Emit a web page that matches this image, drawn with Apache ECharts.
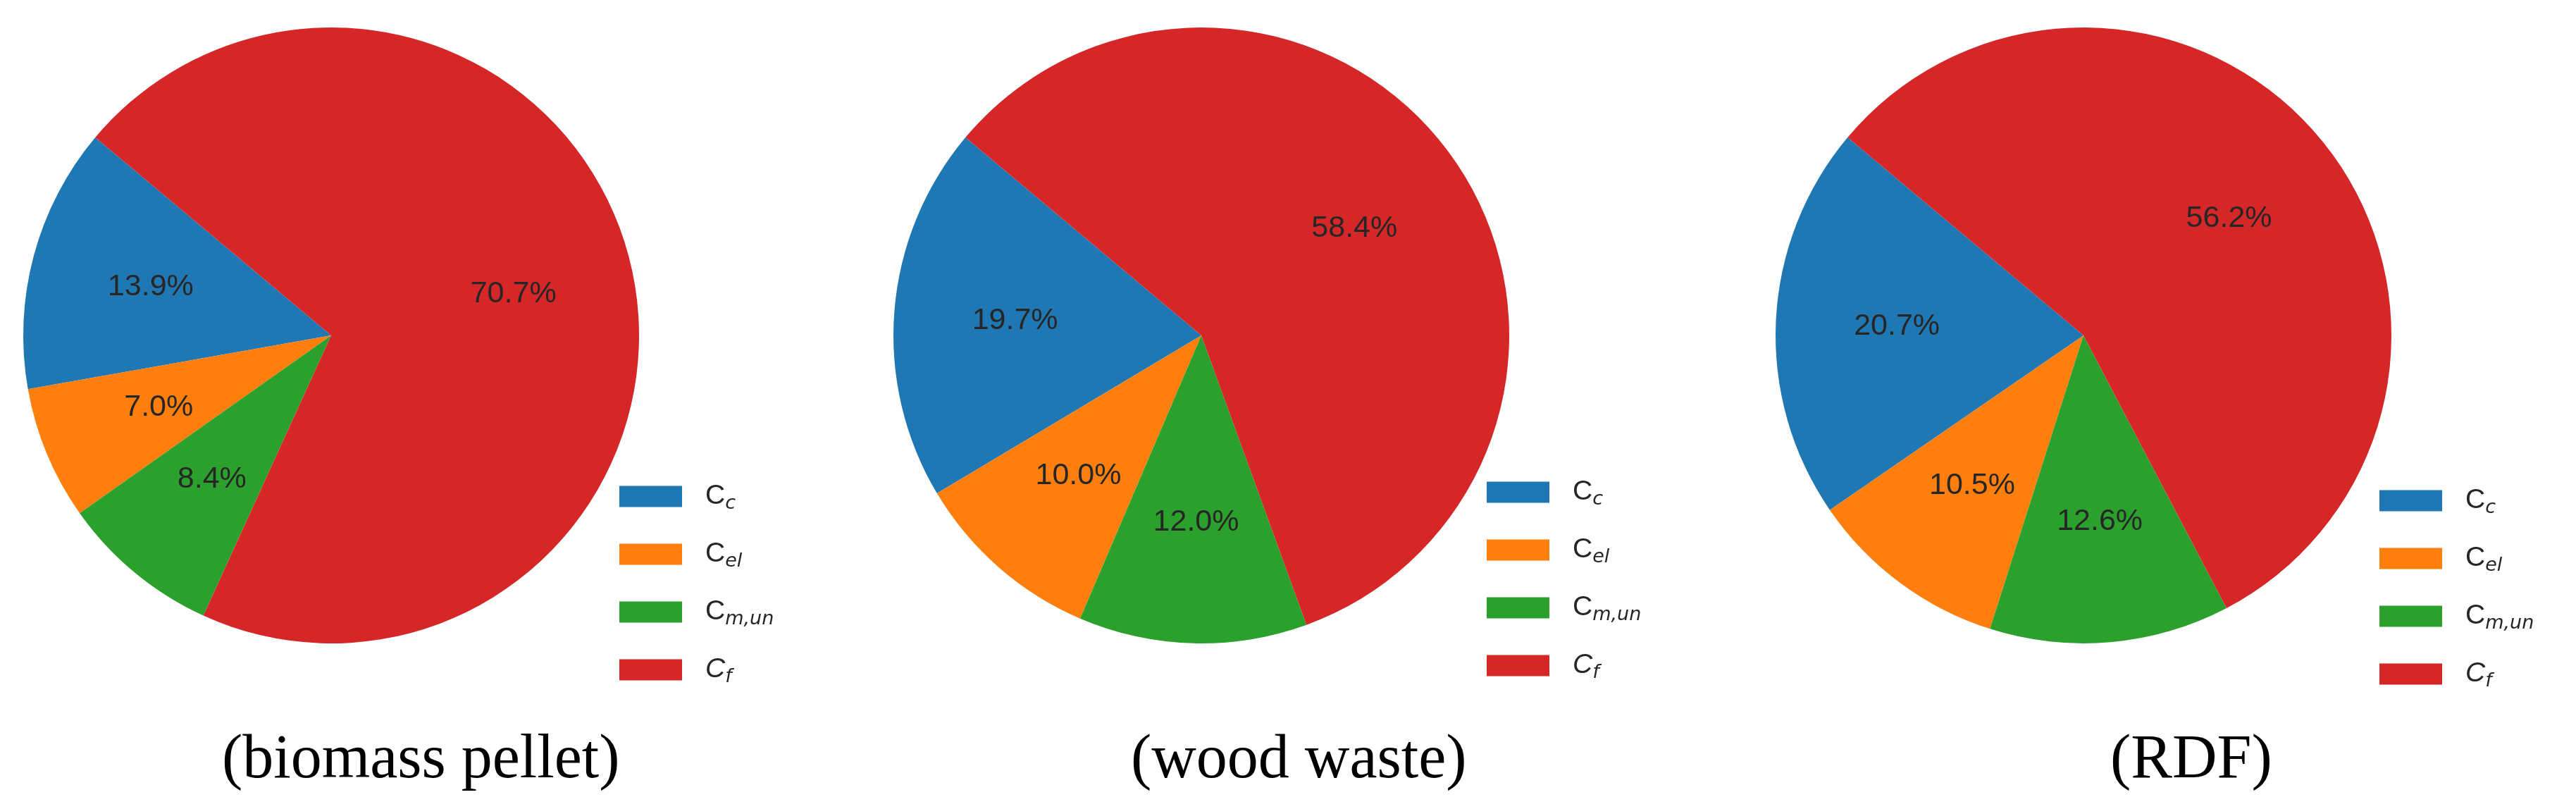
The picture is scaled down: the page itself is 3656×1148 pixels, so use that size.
<!DOCTYPE html>
<html>
<head>
<meta charset="utf-8">
<script src="https://cdn.jsdelivr.net/npm/echarts@6/dist/echarts.min.js"></script>
<style>
    html, body { margin: 0; padding: 0; background: #fff; }
    .chart { width: 3656px; height: 1148px; }
</style>
</head>
<body>
<div id="costChart" class="chart"></div>
<script>
// cost shares (%) per fuel
const categories = ['C_c', 'C_el', 'C_m,un', 'C_f'];
const biomassValues = [13.9, 7.0, 8.4, 70.7];
const woodValues = [19.7, 10.0, 12.0, 58.4];
const rdfValues = [20.7, 10.5, 12.6, 56.2];
const panelTitles = ['(biomass pellet)', '(wood waste)', '(RDF)'];

const colorList = ['#1f77b4', '#ff7f0e', '#2ca02c', '#d62728'];
const R = 437;
const panels = [
    { values: biomassValues, center: [470, 476], legend: [879, 681], title: 315 },
    { values: woodValues, center: [1705, 476], legend: [2110, 675], title: 1605 },
    { values: rdfValues, center: [2957, 476], legend: [3377, 687], title: 2995 },
];

const toData = (vals) => categories.map((name, i) => ({ name, value: vals[i] }));

// legend label like C_{sub}, C_f is all math italic
const legendText = (name) => {
    const sub = name.split('_')[1];
    return name === 'C_f' ? '{ci|C}{s|' + sub + '}' : '{c|C}{s|' + sub + '}';
};

const series = [];
panels.forEach((p) => {
    series.push({
        type: 'pie',
        center: p.center,
        radius: [0, R],
        startAngle: 140,
        clockwise: false,
        silent: true,
        avoidLabelOverlap: false,
        label: { show: false },
        labelLine: { show: false },
        itemStyle: { borderWidth: 0 },
        data: toData(p.values),
    });
});
// transparent ring only to put the % labels at 0.6 R
panels.forEach((p) => {
    series.push({
        type: 'pie',
        center: p.center,
        radius: [R * 0.2, R],
        startAngle: 140,
        clockwise: false,
        silent: true,
        avoidLabelOverlap: false,
        itemStyle: { color: 'rgba(0,0,0,0)', borderWidth: 0 },
        label: {
            show: true,
            position: 'inside',
            color: '#262626',
            fontFamily: 'Liberation Sans',
            fontSize: 43,
            formatter: (d) => d.value.toFixed(1) + '%',
        },
        labelLine: { show: false },
        data: toData(p.values),
    });
});

const legend = panels.map((p) => ({
    left: p.legend[0],
    top: p.legend[1],
    orient: 'vertical',
    padding: 0,
    icon: 'rect',
    itemWidth: 89,
    itemHeight: 30,
    itemGap: 35,
    selectedMode: false,
    data: categories,
    formatter: legendText,
    textStyle: {
        color: '#262626',
        rich: {
            c: { fontFamily: 'Liberation Sans', fontSize: 39, lineHeight: 30, color: '#262626', padding: [0, 0, 0, 28] },
            ci: { fontFamily: 'Liberation Sans', fontStyle: 'italic', fontSize: 39, lineHeight: 30, color: '#262626', padding: [0, 0, 0, 28] },
            s: { fontFamily: 'DejaVu Sans', fontStyle: 'italic', fontSize: 27, lineHeight: 30, color: '#262626', padding: [20, 0, 0, 0] },
        },
    },
}));

const graphic = panels.map((p, i) => ({
    type: 'text',
    x: p.title,
    y: 1080,
    style: {
        text: panelTitles[i],
        font: '88px "Liberation Serif"',
        fill: '#000',
        align: 'left',
        verticalAlign: 'middle',
    },
}));

const option = {
    animation: false,
    color: colorList,
    legend,
    graphic,
    series,
};

// 绘制图表
let myChart = echarts.init(document.getElementById('costChart'));
myChart.clear();
myChart.setOption(option);
</script>
</body>
</html>
